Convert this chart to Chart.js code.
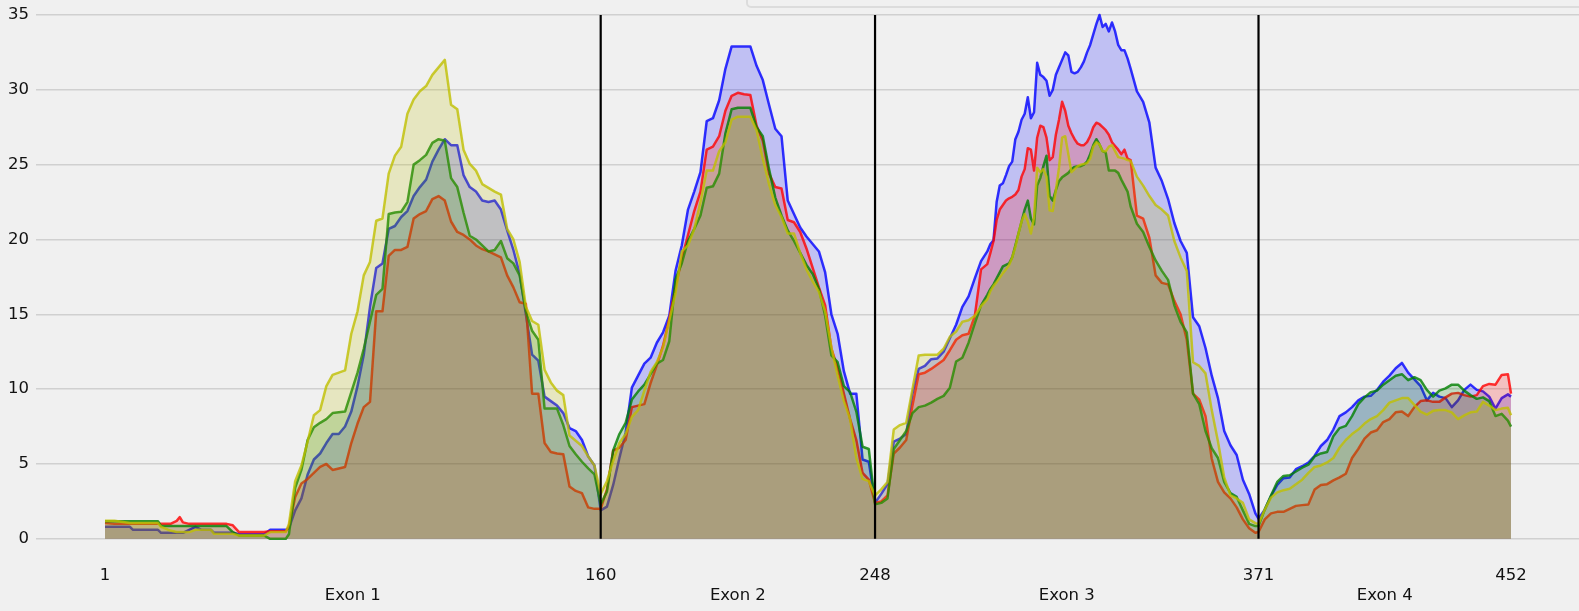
<!DOCTYPE html>
<html>
<head>
<meta charset="utf-8">
<title>Coverage by exon</title>
<script src="https://cdn.jsdelivr.net/npm/chart.js@4.4.1/dist/chart.umd.min.js"></script>
<style>
  html, body { margin: 0; padding: 0; background: #f0f0f0; overflow: hidden; }
  #wrap { position: relative; width: 1579px; height: 611px; }
  #myCanvas { position: absolute; left: 0; top: 0; }
  #legendBox { position: absolute; left: 746px; top: -30px; width: 900px; height: 34px;
    border: 2px solid #dcdcdc; border-radius: 5px; }
</style>
</head>
<body>
<div id="wrap">
  <canvas id="myCanvas" width="1579" height="611"></canvas>
  <div id="legendBox"></div>
</div>
<script>
'use strict';

// positions along the transcript (shared by every sample)
const positions = [
  1, 4, 9, 10, 14, 18, 19, 22, 24, 25, 26, 28, 30, 32, 35, 36, 40, 42, 44, 48, 52, 54, 56, 59,
  60, 62, 64, 66, 68, 70, 72, 74, 76, 78, 80, 82, 84, 86, 88, 90, 92, 94, 96, 98,
  100, 102, 104, 106, 108, 110, 112, 114, 116, 118, 120, 122, 124, 126, 128, 130, 132, 134, 136, 138,
  140, 142, 144, 146, 148, 150, 152, 154, 156, 158, 160,
  162, 164, 166, 168, 170, 172, 174, 176, 178, 180, 182, 184, 186, 188, 190, 192, 194, 196, 198, 200,
  202, 204, 206, 208, 210, 212, 214, 216, 218, 220, 222, 224, 226, 228, 230, 232, 234, 236, 238, 240,
  242, 244, 246, 248,
  250, 252, 254, 256, 258, 260, 262, 264, 266, 268, 270, 272, 274, 276, 278, 280, 282,
  284, 285, 286, 287, 288, 289, 290, 291, 292, 293, 294, 295, 296, 297, 298, 299, 300, 301, 302, 303,
  304, 305, 306, 307, 308, 309, 310, 311, 312, 313, 314, 315, 316, 317, 318, 319, 320, 321, 322, 323,
  324, 325, 326, 327, 328, 329, 330,
  332, 334, 336, 338, 340, 342, 344, 346, 348, 350, 352, 354, 356, 358, 360, 362, 364, 366, 368, 370, 371,
  373, 375, 377, 379, 381, 383, 385, 387, 389, 391, 393, 395, 397, 399, 401, 403, 405, 407, 409, 411,
  413, 415, 417, 419, 421, 423, 425, 427, 429, 431, 433, 435, 437, 439, 441, 443, 445, 447, 449, 451, 452
];

let blueDepth = [
  0.8, 0.8, 0.8, 0.6, 0.6, 0.6, 0.4, 0.4, 0.4, 0.4, 0.4, 0.6, 0.8, 0.6, 0.6, 0.4, 0.4, 0.4, 0.3, 0.3, 0.3, 0.6, 0.6, 0.6,
  0.7, 1.9, 2.7, 4.3, 5.3, 5.7, 6.4, 7.0, 7.0, 7.5, 8.5, 10.2, 12.3, 15.5, 18.1, 18.4, 20.7, 20.9, 21.5, 21.9,
  22.9, 23.5, 24.0, 25.2, 26.0, 26.7, 26.3, 26.3, 24.3, 23.5, 23.2, 22.6, 22.5, 22.6, 22.0, 20.6, 19.3, 17.7, 15.0, 12.3,
  11.9, 9.5, 9.2, 8.9, 8.4, 7.4, 7.2, 6.6, 5.5, 4.9, 1.9,
  2.15, 3.6, 5.4, 7.1, 10.1, 10.9, 11.7, 12.1, 13.1, 13.8, 14.9, 17.9, 19.6, 22.0, 23.2, 24.5, 27.9, 28.1, 29.3, 31.4,
  32.9, 32.9, 32.9, 32.9, 31.6, 30.65, 29.0, 27.4, 26.9, 22.6, 21.7, 20.8, 20.2, 19.7, 19.2, 17.8, 15.0, 13.7, 11.2, 9.7,
  9.7, 5.3, 5.15, 2.4,
  3.0, 3.65, 6.5, 6.7, 7.0, 9.7, 11.35, 11.55, 12.0, 12.05, 12.5, 13.4, 14.3, 15.5, 16.2, 17.4, 18.55,
  19.2, 19.7, 19.95, 22.5, 23.6, 23.75, 24.3, 24.9, 25.2, 26.7, 27.2, 28.0, 28.4, 29.5, 28.1, 28.5, 31.8, 31.0, 30.85, 30.6,
  29.6, 30.0, 31.0, 31.5, 32.0, 32.5, 32.3, 31.2, 31.1, 31.2, 31.5, 31.9, 32.5, 33.0, 33.7, 34.4, 35.0, 34.2, 34.4, 33.9,
  34.5, 33.9, 33.0, 32.65, 32.65, 32.1, 31.4,
  29.9, 29.2, 27.8, 24.8, 23.9, 22.7, 21.1, 19.9, 19.1, 14.8, 14.2, 12.75, 10.9, 9.4, 7.2, 6.25, 5.6, 3.95, 3.0, 1.7, 1.35,
  1.95, 2.85, 3.6, 4.05, 4.1, 4.65, 4.85, 5.1, 5.55, 6.2, 6.6, 7.3, 8.2, 8.45, 8.8, 9.25, 9.5, 9.55, 9.95, 10.5,
  10.9, 11.4, 11.75, 11.1, 10.65, 10.2, 9.25, 9.75, 9.5, 9.4, 8.8, 9.25, 9.95, 10.3, 9.95, 9.85, 9.5, 8.7, 9.4, 9.65, 9.5
];

let redDepth = [
  1.05, 1.0, 1.0, 1.0, 1.0, 1.0, 1.0, 1.0, 1.2, 1.45, 1.1, 1.0, 1.0, 1.0, 1.0, 1.0, 1.0, 0.9, 0.45, 0.45, 0.45, 0.5, 0.5, 0.5,
  0.8, 2.8, 3.7, 4.0, 4.4, 4.8, 5.0, 4.6, 4.7, 4.8, 6.4, 7.7, 8.8, 9.15, 15.2, 15.2, 18.9, 19.3, 19.3, 19.5,
  21.4, 21.7, 21.9, 22.7, 22.9, 22.6, 21.2, 20.5, 20.3, 20.0, 19.6, 19.35, 19.2, 19.0, 18.8, 17.6, 16.8, 15.8, 15.7, 9.7,
  9.7, 6.4, 5.8, 5.7, 5.65, 3.5, 3.2, 3.05, 2.1, 2.0, 2.0,
  3.3, 5.9, 6.1, 6.6, 8.8, 8.9, 9.0, 10.4, 11.6, 12.9, 14.7, 16.8, 18.7, 20.3, 21.9, 23.2, 26.0, 26.2, 26.9, 28.6,
  29.6, 29.8, 29.7, 29.65, 27.6, 26.6, 24.4, 23.5, 23.4, 21.3, 21.15, 20.5, 19.4, 18.1, 16.8, 15.6, 12.7, 11.4, 9.7, 8.0,
  6.6, 4.4, 3.95, 2.4,
  2.5, 2.9, 5.7, 6.1, 6.6, 8.9, 11.0, 11.1, 11.35, 11.65, 11.95, 12.6, 13.3, 13.6, 13.7, 14.9, 18.0,
  18.35, 19.1, 19.9, 21.3, 22.0, 22.3, 22.6, 22.75, 22.85, 23.0, 23.3, 24.2, 24.7, 26.1, 26.0, 24.6, 26.8, 27.6, 27.5, 26.8,
  25.3, 25.5, 27.0, 28.0, 29.2, 28.6, 27.6, 27.1, 26.7, 26.4, 26.3, 26.3, 26.5, 26.9, 27.5, 27.8, 27.7, 27.5, 27.3, 27.0,
  26.5, 26.25, 26.0, 25.7, 26.0, 25.4, 25.3,
  21.6, 21.4, 20.1, 17.6, 17.1, 17.0, 15.9, 15.0, 13.3, 9.7, 9.3, 8.2, 5.35, 3.8, 3.1, 2.7, 2.1, 1.3, 0.7, 0.4, 0.45,
  1.3, 1.7, 1.8, 1.8, 2.0, 2.2, 2.25, 2.3, 3.3, 3.6, 3.65, 3.9, 4.1, 4.35, 5.4, 6.0, 6.7, 7.1, 7.25, 7.8,
  8.0, 8.45, 8.5, 8.2, 8.8, 9.2, 9.25, 9.15, 9.15, 9.45, 9.7, 9.75, 9.6, 9.5, 9.6, 10.2, 10.35, 10.3, 10.95, 11.0, 9.7
];

let greenDepth = [
  1.18, 1.18, 1.18, 1.18, 1.18, 1.18, 0.85, 0.85, 0.85, 0.85, 0.85, 0.85, 0.85, 0.85, 0.85, 0.85, 0.85, 0.45, 0.22, 0.22, 0.22, 0, 0, 0,
  0.3, 3.4, 4.6, 6.6, 7.45, 7.75, 8.0, 8.4, 8.45, 8.5, 9.8, 11.1, 12.7, 14.5, 16.3, 16.7, 21.7, 21.8, 21.85, 22.5,
  25.0, 25.3, 25.65, 26.45, 26.7, 26.6, 24.1, 23.5, 21.8, 20.25, 20.0, 19.6, 19.2, 19.3, 19.9, 18.75, 18.4, 17.6, 15.2, 13.9,
  13.3, 8.7, 8.7, 8.7, 7.6, 6.2, 5.65, 5.15, 4.7, 4.3, 2.3,
  3.15, 5.9, 7.0, 7.75, 9.3, 9.85, 10.3, 11.0, 11.7, 11.95, 13.2, 17.35, 18.4, 19.9, 20.7, 21.6, 23.45, 23.55, 24.4, 27.1,
  28.7, 28.8, 28.8, 28.8, 27.5, 26.9, 24.7, 22.8, 21.6, 20.6, 19.9, 19.1, 18.3, 17.7, 16.7, 14.9, 12.25, 11.8, 10.2, 9.8,
  8.5, 6.15, 6.0, 2.3,
  2.4, 2.7, 6.0, 6.6, 7.2, 8.4, 8.8, 8.9, 9.1, 9.35, 9.55, 10.1, 11.85, 12.1, 13.1, 14.4, 15.6,
  16.3, 16.7, 17.0, 17.4, 17.8, 18.2, 18.3, 18.4, 18.8, 19.6, 20.4, 21.2, 22.0, 22.6, 21.4, 21.0, 23.6, 24.1, 24.9, 25.6,
  22.9, 22.6, 23.3, 23.9, 24.15, 24.3, 24.45, 24.7, 24.85, 24.9, 24.9, 25.0, 25.2, 25.7, 26.3, 26.7, 26.35, 25.9, 25.8, 24.6,
  24.6, 24.6, 24.45, 24.0, 23.6, 23.2, 22.2,
  21.05, 20.5, 19.5, 18.6, 17.9, 17.3, 15.6, 14.5, 13.8, 9.7, 9.0, 7.2, 6.05, 5.4, 3.8, 3.05, 2.8, 1.9, 1.0, 0.85, 0.85,
  1.95, 2.9, 3.8, 4.2, 4.25, 4.5, 4.75, 4.95, 5.5, 5.7, 5.8, 6.85, 7.4, 7.55, 8.2, 9.0, 9.45, 9.8, 9.9, 10.3,
  10.6, 10.9, 11.0, 10.6, 10.8, 10.6, 9.95, 9.5, 9.9, 10.05, 10.3, 10.3, 9.9, 9.6, 9.35, 9.45, 9.2, 8.2, 8.35, 7.9, 7.5
];

let yellowDepth = [
  1.2, 1.2, 1.05, 1.05, 1.05, 1.05, 0.8, 0.55, 0.45, 0.45, 0.45, 0.45, 0.6, 0.6, 0.6, 0.33, 0.33, 0.33, 0.22, 0.22, 0.22, 0.45, 0.45, 0.45,
  1.0, 3.85, 4.9, 6.5, 8.25, 8.6, 10.2, 10.95, 11.1, 11.25, 13.7, 15.2, 17.6, 18.5, 21.25, 21.4, 24.4, 25.6, 26.2, 28.4,
  29.35, 29.9, 30.25, 31.0, 31.5, 32.0, 29.0, 28.7, 26.0, 25.05, 24.6, 23.7, 23.45, 23.2, 23.0, 20.7, 20.0, 18.5, 15.5, 14.55,
  14.3, 11.3, 10.45, 9.9, 9.6, 6.9, 6.55, 6.2, 5.5, 4.9, 3.0,
  3.85, 5.2, 6.4, 7.0, 8.15, 8.6, 9.9, 11.15, 11.8, 12.8, 14.6, 16.4, 19.2, 19.6, 20.7, 22.5, 24.6, 24.6, 25.9, 26.5,
  28.0, 28.2, 28.2, 28.2, 27.3, 25.4, 23.7, 22.3, 21.5, 20.4, 20.4, 19.1, 18.0, 17.2, 16.5, 15.2, 12.8, 10.9, 9.2, 8.0,
  5.4, 4.0, 3.85, 2.9,
  3.3, 3.8, 7.3, 7.6, 7.75, 10.0, 12.25, 12.3, 12.3, 12.3, 12.7, 13.5, 13.85, 14.5, 14.6, 14.9, 15.55,
  16.0, 16.55, 16.9, 17.15, 17.45, 17.75, 18.0, 18.3, 18.8, 19.5, 20.4, 21.2, 21.7, 21.2, 20.4, 21.5, 24.8, 24.5, 24.7, 24.2,
  21.95, 21.9, 23.3, 24.8, 26.8, 26.9, 25.7, 24.5, 24.7, 24.9, 25.0, 25.05, 25.1, 25.4, 26.2, 26.5, 26.35, 25.9, 25.9, 26.2,
  26.3, 25.9, 25.5, 25.45, 25.4, 25.3, 25.25,
  24.2, 23.6, 22.9, 22.3, 22.0, 21.6, 19.9, 18.8, 17.9, 11.8, 11.55, 11.05, 8.6, 6.5, 4.1, 2.9, 2.7, 2.4, 1.3, 1.05, 1.0,
  1.95, 2.75, 3.1, 3.25, 3.35, 3.65, 3.95, 4.4, 4.8, 4.9, 5.1, 5.4, 6.1, 6.6, 7.0, 7.3, 7.7, 8.0, 8.2, 8.6,
  9.1, 9.25, 9.4, 9.4, 8.95, 8.5, 8.3, 8.55, 8.6, 8.6, 8.45, 8.0, 8.25, 8.45, 8.5, 9.15, 8.9, 8.6, 8.7, 8.75, 8.25
];

const exonBounds = [160, 248, 371];
const boundTop = 35;
const exonNames = ['Exon 1', 'Exon 2', 'Exon 3', 'Exon 4'];
const exonCenters = [80.5, 204, 309.5, 411.5];
const xTickValues = [1, 160, 248, 371, 452];
const yTickValues = [0, 5, 10, 15, 20, 25, 30, 35];

function makeSeries(label, values, rgb, order) {
  let points = [];
  for (let i = 0; i < positions.length; i++) {
    points.push({ x: positions[i], y: values[i] });
  }
  return {
    label: label,
    data: points,
    borderColor: `rgba(${rgb}, 0.8)`,
    backgroundColor: `rgba(${rgb}, 0.2)`,
    borderWidth: 2.5,
    borderJoinStyle: 'round',
    pointRadius: 0,
    tension: 0,
    fill: 'origin',
    order: order
  };
}

function makeBound(x) {
  return {
    label: 'boundary ' + x,
    data: [{ x: x, y: 0 }, { x: x, y: boundTop }],
    borderColor: '#000000',
    borderWidth: 2.2,
    pointRadius: 0,
    fill: false,
    order: 0
  };
}

let datasets = [
  makeSeries('Sample 1', blueDepth, '0, 0, 255', 4),
  makeSeries('Sample 2', redDepth, '255, 0, 0', 3),
  makeSeries('Sample 3', greenDepth, '0, 128, 0', 2),
  makeSeries('Sample 4', yellowDepth, '191, 191, 0', 1)
];
exonBounds.forEach(function (b) {
  datasets.push(makeBound(b));
});

Chart.defaults.font.family = '"DejaVu Sans", sans-serif';
Chart.defaults.font.size = 16.5;
Chart.defaults.color = '#111111';

const config = {
  type: 'line',
  data: { datasets: datasets },
  options: {
    responsive: false,
    animation: false,
    layout: { padding: 0 },
    plugins: {
      legend: { display: false },
      tooltip: { enabled: false }
    },
    scales: {
      x: {
        type: 'linear',
        min: -21.13,
        max: 473.8,
        grid: { display: false, drawTicks: false },
        border: { display: false },
        afterBuildTicks: function (scale) {
          let vals = xTickValues.concat(exonCenters).sort(function (a, b) { return a - b; });
          scale.ticks = vals.map(function (v) { return { value: v }; });
        },
        afterFit: function (scale) {
          scale.height = 46;
          scale.paddingLeft = 0;
          scale.paddingRight = 0;
        },
        ticks: {
          autoSkip: false,
          maxRotation: 0,
          minRotation: 0,
          padding: 1,
          callback: function (value) {
            let idx = exonCenters.indexOf(value);
            if (idx >= 0) {
              return ['', exonNames[idx]];
            }
            return String(value);
          }
        }
      },
      y: {
        min: -1.75,
        max: 36,
        grid: { color: '#d0d0d0', lineWidth: 1.5, drawTicks: false },
        border: { display: false },
        afterBuildTicks: function (scale) {
          scale.ticks = yTickValues.map(function (v) { return { value: v }; });
        },
        afterFit: function (scale) {
          scale.width = 36;
          scale.paddingTop = 0;
          scale.paddingBottom = 0;
        },
        ticks: { padding: 7 }
      }
    }
  }
};

const myCanvas = document.getElementById('myCanvas');
const myChart = new Chart(myCanvas, config);
</script>
</body>
</html>
